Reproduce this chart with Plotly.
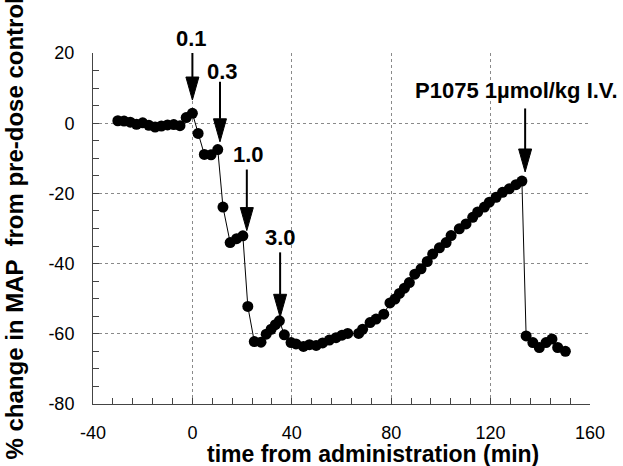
import plotly.graph_objects as go

# ---- data ----
time_min = [-30, -27.5, -25, -22.5, -20, -17.5, -15, -12.5, -10, -7.5, -5, -2.5, 0,
            2.3, 4.8, 7.5, 10.2, 12.3, 15.2, 17.8, 20.3, 22.3, 24.9, 27.6, 29.7, 31.7, 33.4, 35,
            37, 39.7, 41.7, 44.7, 47.1, 49.8, 52.4, 55.1, 57.8, 60.2, 62.5, 66.9, 68.5, 71.5,
            73.9, 77, 79.5, 81.5, 83.3, 85.3, 87.3, 89.5, 92, 94.5, 96.7, 99.4, 102.1, 104.1,
            107.4, 110.1, 112.8, 114.8, 117.5, 119.5, 122.2, 124.8, 127.5, 130.2, 132.6,
            134.3, 137, 139.6, 142.3, 144.7, 147, 150.1]
map_change = [0.7, 0.6, 0.3, -0.3, 0.1, -0.6, -1.1, -0.8, -0.5, -0.4, -0.7, 1.6, 2.8,
              -2.9, -8.9, -9.0, -7.5, -23.9, -34.0, -32.9, -32.1, -52.2, -62.2, -62.4, -60.1, -58.7, -57.4, -56.3,
              -60.3, -62.5, -62.9, -63.6, -63.1, -63.3, -62.6, -61.8, -61.1, -60.4, -59.9, -59.9, -58.7, -56.8,
              -55.8, -54.4, -51.2, -50.1, -48.5, -47.0, -45.4, -43.0, -41.5, -39.4, -37.3, -35.5, -34.0, -32.0,
              -30.1, -28.7, -26.8, -25.3, -23.9, -22.5, -21.1, -19.7, -18.7, -17.5, -16.5,
              -60.6, -62.5, -63.9, -62.5, -61.5, -63.9, -65.0]

x_ticks = [-40, 0, 40, 80, 120, 160]
x_ticktext = ["-40", "0", "40", "80", "120", "160"]
y_ticks = [-80, -60, -40, -20, 0, 20]
y_ticktext = ["-80", "-60", "-40", "-20", "0", "20"]

x_title = "time from administration (min)"
y_title = "% change in MAP  from pre-dose control"

# dose annotations: label, label x/y, arrow x, arrow start y, arrow tip y
dose_labels = ["0.1", "0.3", "1.0", "3.0", "P1075 1\u00b5mol/kg I.V."]
label_x = [-0.3, 12.2, 22.7, 35.4, 130.3]
label_y = [24.0, 14.7, -8.9, -32.5, 9.4]
arrow_x = [0.0, 11.1, 21.9, 35.3, 133.9]
arrow_y0 = [20.3, 11.8, -13.2, -36.8, 4.2]
arrow_tip = [6.6, -5.3, -30.6, -55.3, -13.9]

# ---- layout geometry ----
W, H = 623, 466
ML, MR, MT, MB = 93, 33, 53, 62
XR = [-40, 160]
YR = [-80, 20]
xu = (XR[1] - XR[0]) / (W - ML - MR)   # data units per px
yu = (YR[1] - YR[0]) / (H - MT - MB)

FONT = "Liberation Sans, Arial, sans-serif"

fig = go.Figure()
fig.add_trace(go.Scatter(
    x=time_min, y=map_change, mode="lines+markers",
    line=dict(color="black", width=1),
    marker=dict(color="black", size=11),
    showlegend=False, cliponaxis=False, hoverinfo="skip"))

shapes = []
head_len, head_half = 23, 6.5
for ax_, y0, yt in zip(arrow_x, arrow_y0, arrow_tip):
    base = yt + head_len * yu
    shapes.append(dict(type="line", xref="x", yref="y", x0=ax_, x1=ax_, y0=y0, y1=base,
                       line=dict(color="black", width=2)))
    path = (f"M {ax_ - head_half * xu} {base} L {ax_ + head_half * xu} {base} "
            f"L {ax_} {yt} Z")
    shapes.append(dict(type="path", xref="x", yref="y", path=path,
                       fillcolor="black", line=dict(color="black", width=1)))

annotations = []
for t, lx, ly in zip(dose_labels, label_x, label_y):
    yy, ysh = ly, 0
    if ly > YR[1]:
        yy, ysh = YR[1], (ly - YR[1]) / yu
    annotations.append(dict(x=lx, y=yy, yshift=ysh, xref="x", yref="y", text=f"<b>{t}</b>",
                            showarrow=False, font=dict(family=FONT, size=22, color="black"),
                            xanchor="center", yanchor="middle"))

# axis titles as annotations (placed like the reference, y title overflows the edges)
annotations.append(dict(x=0, y=0.5, xref="paper", yref="paper", xshift=-(ML - 14),
                        text=f"<b>{y_title}</b>", textangle=-90,
                        showarrow=False, font=dict(family=FONT, size=24, color="black"),
                        xanchor="center", yanchor="middle"))
annotations.append(dict(x=0.5, y=0, xref="paper", yref="paper", xshift=31, yshift=-50,
                        text=f"<b>{x_title}</b>",
                        showarrow=False, font=dict(family=FONT, size=23, color="black"),
                        xanchor="center", yanchor="middle"))

grid = dict(showgrid=True, gridcolor="#8a8a8a", gridwidth=1, griddash="3px,3px")
fig.update_layout(
    width=W, height=H,
    margin=dict(l=ML, r=MR, t=MT, b=MB, autoexpand=False),
    paper_bgcolor="white", plot_bgcolor="white",
    font=dict(family=FONT, color="black"),
    shapes=shapes, annotations=annotations,
    xaxis=dict(range=XR, tickvals=x_ticks, ticktext=x_ticktext, ticks="inside", ticklen=6,
               tickcolor="#444", showline=True, linecolor="#444", linewidth=1, zeroline=False,
               tickfont=dict(size=18, family=FONT), ticklabelstandoff=12,
               minor=dict(dtick=8, tick0=0, ticks="inside", ticklen=6, tickcolor="#444", showgrid=False),
               automargin=False, **grid),
    yaxis=dict(range=YR, tickvals=y_ticks, ticktext=y_ticktext, ticks="inside", ticklen=6,
               tickcolor="#444", showline=True, linecolor="#444", linewidth=1, zeroline=False,
               tickfont=dict(size=18, family=FONT), ticklabelstandoff=14,
               minor=dict(dtick=5, tick0=0, ticks="inside", ticklen=6, tickcolor="#444", showgrid=False),
               automargin=False, **grid),
)

fig.write_html("out.html", config={"displayModeBar": False},
               post_script="document.body.style.margin='0px';")
